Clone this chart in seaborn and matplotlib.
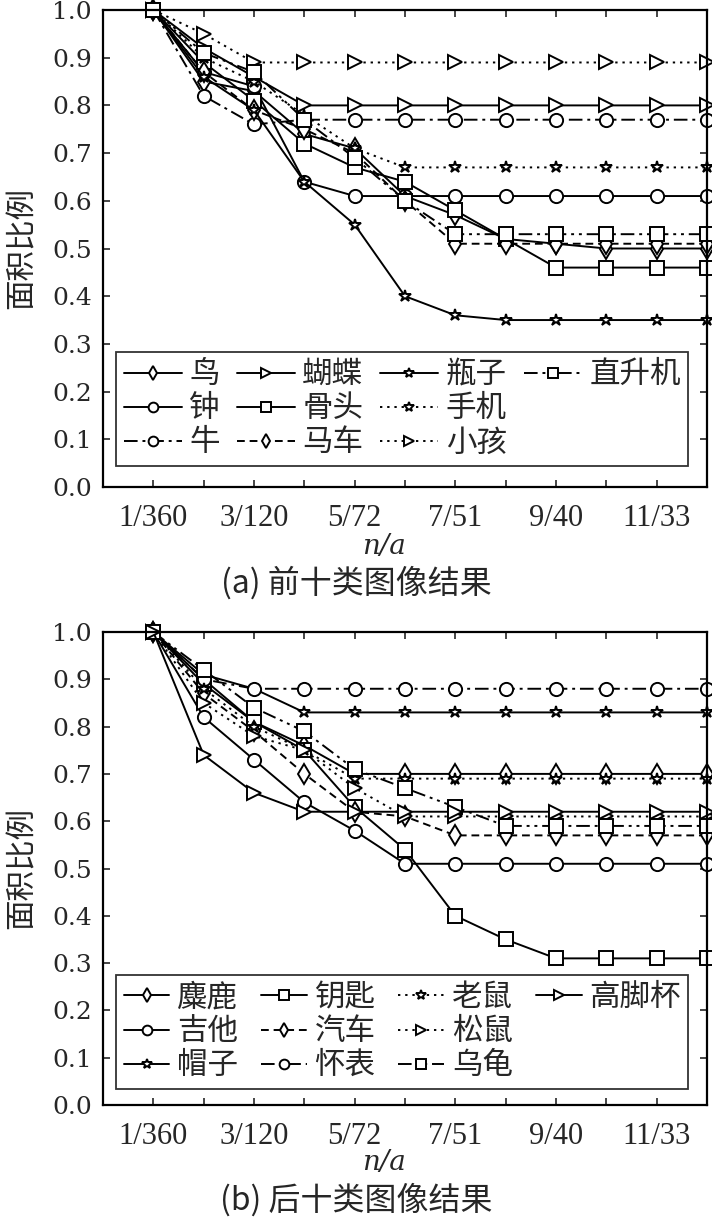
import pandas as pd
import matplotlib
matplotlib.use("Agg")
import matplotlib.pyplot as plt
import seaborn as sns
from matplotlib.lines import Line2D

steps = list(range(12))
tick_pos = [0, 2, 4, 6, 8, 10]
tick_labels = ["1/360", "3/120", "5/72", "7/51", "9/40", "11/33"]
y_ticks = [0.0, 0.1, 0.2, 0.3, 0.4, 0.5, 0.6, 0.7, 0.8, 0.9, 1.0]

# (a) first ten classes
names_a = ["鸟", "钟", "牛", "蝴蝶", "骨头", "马车", "瓶子", "手机", "小孩", "直升机"]
bird = [1.0, 0.85, 0.83, 0.74, 0.71, 0.61, 0.57, 0.52, 0.51, 0.50, 0.50, 0.50]
clock = [1.0, 0.87, 0.84, 0.64, 0.61, 0.61, 0.61, 0.61, 0.61, 0.61, 0.61, 0.61]
cow = [1.0, 0.82, 0.76, 0.77, 0.77, 0.77, 0.77, 0.77, 0.77, 0.77, 0.77, 0.77]
butterfly = [1.0, 0.92, 0.86, 0.80, 0.80, 0.80, 0.80, 0.80, 0.80, 0.80, 0.80, 0.80]
bone = [1.0, 0.89, 0.81, 0.72, 0.67, 0.64, 0.58, 0.52, 0.46, 0.46, 0.46, 0.46]
carriage = [1.0, 0.87, 0.79, 0.75, 0.70, 0.60, 0.51, 0.51, 0.51, 0.51, 0.51, 0.51]
bottle = [1.0, 0.86, 0.79, 0.64, 0.55, 0.40, 0.36, 0.35, 0.35, 0.35, 0.35, 0.35]
phone = [1.0, 0.90, 0.85, 0.78, 0.71, 0.67, 0.67, 0.67, 0.67, 0.67, 0.67, 0.67]
child = [1.0, 0.95, 0.89, 0.89, 0.89, 0.89, 0.89, 0.89, 0.89, 0.89, 0.89, 0.89]
helicopter = [1.0, 0.91, 0.87, 0.77, 0.69, 0.60, 0.53, 0.53, 0.53, 0.53, 0.53, 0.53]
values_a = [bird, clock, cow, butterfly, bone, carriage, bottle, phone, child, helicopter]

# (b) last ten classes
names_b = ["麋鹿", "吉他", "帽子", "钥匙", "汽车", "怀表", "老鼠", "松鼠", "乌龟", "高脚杯"]
elk = [1.0, 0.90, 0.81, 0.76, 0.70, 0.70, 0.70, 0.70, 0.70, 0.70, 0.70, 0.70]
guitar = [1.0, 0.82, 0.73, 0.64, 0.58, 0.51, 0.51, 0.51, 0.51, 0.51, 0.51, 0.51]
hat = [1.0, 0.91, 0.88, 0.83, 0.83, 0.83, 0.83, 0.83, 0.83, 0.83, 0.83, 0.83]
key = [1.0, 0.89, 0.81, 0.75, 0.63, 0.54, 0.40, 0.35, 0.31, 0.31, 0.31, 0.31]
car = [1.0, 0.87, 0.79, 0.70, 0.62, 0.61, 0.57, 0.57, 0.57, 0.57, 0.57, 0.57]
watch = [1.0, 0.90, 0.88, 0.88, 0.88, 0.88, 0.88, 0.88, 0.88, 0.88, 0.88, 0.88]
mouse = [1.0, 0.88, 0.80, 0.75, 0.69, 0.69, 0.69, 0.69, 0.69, 0.69, 0.69, 0.69]
squirrel = [1.0, 0.85, 0.78, 0.75, 0.67, 0.61, 0.61, 0.61, 0.61, 0.61, 0.61, 0.61]
turtle = [1.0, 0.92, 0.84, 0.79, 0.71, 0.67, 0.63, 0.59, 0.59, 0.59, 0.59, 0.59]
goblet = [1.0, 0.74, 0.66, 0.62, 0.62, 0.62, 0.62, 0.62, 0.62, 0.62, 0.62, 0.62]
values_b = [elk, guitar, hat, key, car, watch, mouse, squirrel, turtle, goblet]

# line styles (in units of line width)
SOLID = ""
DASHDOT = (7, 2.5, 1.5, 2.5)
DASHED = (4, 2.5)
DOTTED = (1.2, 2.5)
DASHDOTDOT = (7, 2.5, 1.5, 2.5, 1.5, 2.5)

style_a = {
    "鸟": ("d", SOLID), "钟": ("o", SOLID), "牛": ("o", DASHDOT),
    "蝴蝶": (">", SOLID), "骨头": ("s", SOLID), "马车": ("d", DASHED),
    "瓶子": ("*", SOLID), "手机": ("*", DOTTED), "小孩": (">", DOTTED),
    "直升机": ("s", DASHDOTDOT),
}
style_b = {
    "麋鹿": ("d", SOLID), "吉他": ("o", SOLID), "帽子": ("*", SOLID),
    "钥匙": ("s", SOLID), "汽车": ("d", DASHED), "怀表": ("o", DASHDOT),
    "老鼠": ("*", DOTTED), "松鼠": (">", DOTTED), "乌龟": ("s", DASHDOTDOT),
    "高脚杯": (">", SOLID),
}
marker_size = {"o": 9.5, "s": 9.5, ">": 10, "d": 10.5, "*": 9}

CJK = ["Noto Sans CJK SC", "DejaVu Sans"]


def to_frame(names, values):
    rows = []
    for name, vals in zip(names, values):
        for x, y in zip(steps, vals):
            rows.append({"step": x, "ratio": y, "name": name})
    return pd.DataFrame(rows)


def draw_panel(ax, names, values, styles, legend_kw):
    df = to_frame(names, values)
    sns.lineplot(
        data=df, x="step", y="ratio",
        hue="name", hue_order=names,
        style="name", style_order=names,
        palette=["black"] * len(names),
        markers={n: styles[n][0] for n in names},
        dashes={n: styles[n][1] for n in names},
        linewidth=1.4,
        markerfacecolor="white", markeredgecolor="black", mew=1.4,
        clip_on=False, legend=False, ax=ax,
    )
    for line in ax.lines:
        line.set_markersize(marker_size[line.get_marker()])

    ax.set_xlim(-1, 11)
    ax.set_ylim(0, 1.0)
    ax.set_xticks(steps)
    ax.set_xticklabels([tick_labels[tick_pos.index(s)] if s in tick_pos else "" for s in steps],
                       family="Liberation Serif", fontsize=22)
    ax.set_yticks(y_ticks)
    ax.set_yticklabels([f"{v:.1f}" for v in y_ticks], family="DejaVu Serif", fontsize=18)
    ax.tick_params(direction="in", length=5, width=1.2, top=True, right=True)
    ax.tick_params(axis="x", pad=12)
    ax.tick_params(axis="y", pad=8)
    ax.set_xlabel("")
    ax.set_ylabel("")
    for sp in ax.spines.values():
        sp.set_linewidth(1.6)
        sp.set_color("black")

    handles = list(ax.lines)
    blank = Line2D([], [], linestyle="none")
    handles = handles + [blank, blank]
    labels = names + ["", ""]
    leg = ax.legend(
        handles, labels, ncol=4, loc="lower left",
        prop={"family": CJK, "size": 22},
        frameon=True, fancybox=False, edgecolor="black",
        borderaxespad=0, labelspacing=0.1, borderpad=0.25,
        handletextpad=0.25, **legend_kw,
    )
    leg.get_frame().set_linewidth(1.3)
    for h in leg.legend_handles:
        if hasattr(h, "set_markersize"):
            h.set_markersize(7)


sns.set_style("ticks")
plt.rcParams["font.family"] = ["DejaVu Serif", "Noto Sans CJK SC"]

fig = plt.figure(figsize=(7.12, 12.17), dpi=100)
ax_a = fig.add_axes([103 / 712, 1 - 487 / 1217, 604 / 712, 477 / 1217])
ax_b = fig.add_axes([103 / 712, 1 - 1105 / 1217, 604 / 712, 473 / 1217])

draw_panel(ax_a, names_a, values_a, style_a,
           dict(bbox_to_anchor=(0.0215, 0.044), handlelength=1.9, columnspacing=0.55))
draw_panel(ax_b, names_b, values_b, style_b,
           dict(bbox_to_anchor=(0.0215, 0.034), handlelength=1.5, columnspacing=0.75))

for ycap, yx, ylab, cap in [(583, 547, 248, "(a) 前十类图像结果"), (1200, 1163, 868, "(b) 后十类图像结果")]:
    fig.text(384 / 712, 1 - yx / 1217, "n/a", ha="center", va="center",
             family="DejaVu Serif", style="italic", fontsize=20)
    fig.text(356 / 712, 1 - ycap / 1217, cap, ha="center", va="center",
             family=CJK, fontsize=23)
    fig.text(22 / 712, 1 - ylab / 1217, "面积比例", ha="center", va="center",
             rotation=90, family=CJK, fontsize=22)

fig.savefig("out.png", dpi=100)
